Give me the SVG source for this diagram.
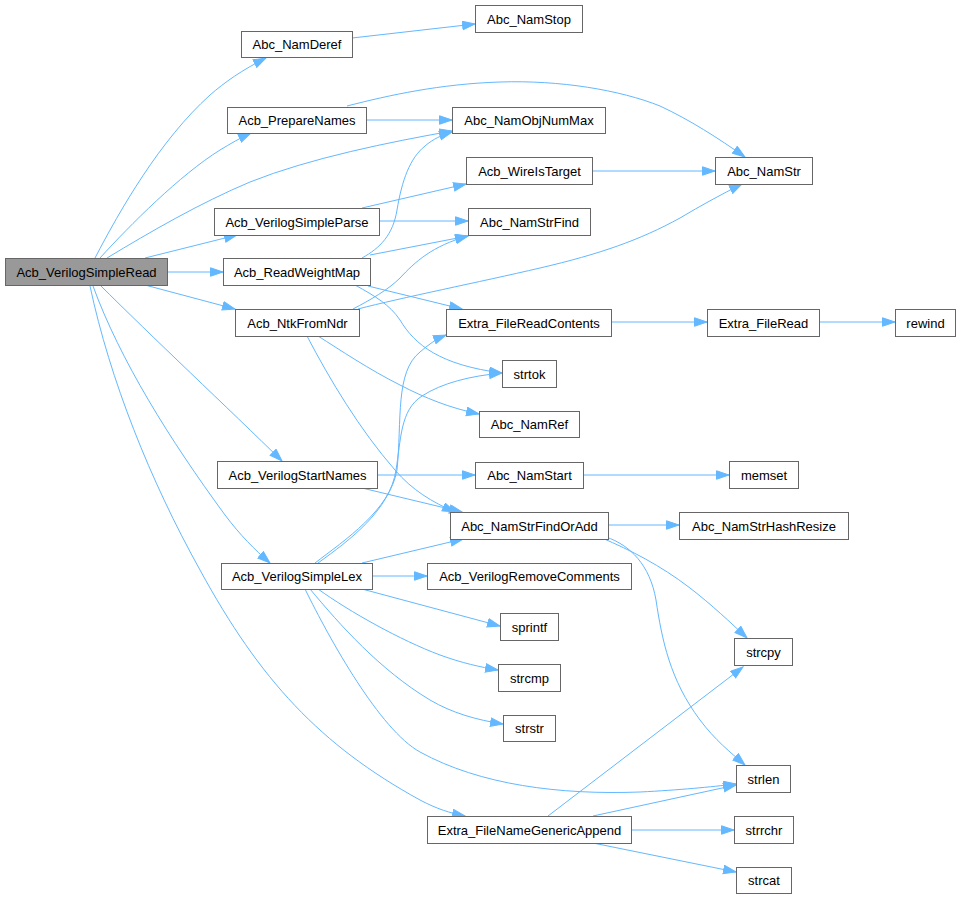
<svg xmlns="http://www.w3.org/2000/svg" width="960" height="899" viewBox="0 0 960 899">
<style>
.n rect{fill:#fff;stroke:#666;stroke-width:1}
.n.root rect{fill:#999}
.n text{font-family:"Liberation Sans",Arial,sans-serif;font-size:13px;fill:#000;text-anchor:middle}
.e path{fill:none;stroke:#63b8ff;stroke-width:1;marker-end:url(#ah)}
</style>
<defs>
<marker id="ah" markerUnits="userSpaceOnUse" markerWidth="15" markerHeight="11" refX="13" refY="4.75" orient="auto">
<path d="M0.5,0.5 L13,4.75 L0.5,9 z" fill="#63b8ff" stroke="#63b8ff" stroke-width="1"/>
</marker>
</defs>
<rect width="960" height="899" fill="#fff"/>
<g id="edges" class="e">
<path d="M95,258 C120,210 160,140 210,95 C225,82 242,70 266,58"/>
<path d="M100,258 C130,225 180,175 220,150 C230,144 240,138 251,133"/>
<path d="M107,258 C150,232 200,203 250,182 C310,158 390,142 452,131"/>
<path d="M145,258 L237,235"/>
<path d="M167,272 L223,272"/>
<path d="M145,285 L235,309"/>
<path d="M100,285 C150,335 230,410 282,461"/>
<path d="M93,286 C120,360 170,440 225,515 C240,535 255,550 270,563"/>
<path d="M90,286 C110,380 150,480 200,570 C260,680 320,745 420,800 C437,809 450,813 465,816"/>
<path d="M352,38 L475,24"/>
<path d="M366,120 L452,120"/>
<path d="M347,106 C390,95 440,84 500,82 C560,80 620,90 660,106 C690,120 718,138 745,157"/>
<path d="M362,208 L466,184"/>
<path d="M379,221 L468,221"/>
<path d="M362,258 C380,248 393,235 397,210 C402,180 410,158 425,146 C433,139 442,135 452,132"/>
<path d="M370,255 L468,236"/>
<path d="M368,286 L462,309"/>
<path d="M355,285 C375,296 390,305 400,320 C415,345 440,365 502,373"/>
<path d="M353,309 C370,300 388,290 400,278 C415,262 432,246 468,236"/>
<path d="M358,309 C400,298 480,282 540,268 C600,254 640,240 680,218 C700,206 722,194 742,184"/>
<path d="M318,336 C340,350 370,370 400,385 C425,398 450,408 479,414"/>
<path d="M307,336 C330,380 360,430 395,470 C412,490 432,502 455,512"/>
<path d="M377,475 L475,475"/>
<path d="M362,488 L462,512"/>
<path d="M315,563 C345,540 390,510 397,470 C402,420 395,372 420,352 C428,345 436,339 446,335"/>
<path d="M318,563 C350,540 390,510 396,470 C401,440 400,410 422,396 C442,383 470,376 502,373"/>
<path d="M362,563 L463,539"/>
<path d="M372,576 L427,576"/>
<path d="M362,589 L500,626"/>
<path d="M318,589 C350,612 400,640 440,655 C462,663 480,667 498,670"/>
<path d="M310,589 C340,625 380,670 430,700 C452,713 477,720 503,724"/>
<path d="M305,589 C330,640 380,730 420,752 C480,785 560,795 640,792 C680,790 710,787 736,784"/>
<path d="M548,816 L743,667"/>
<path d="M593,816 L736,785"/>
<path d="M631,830 L734,830"/>
<path d="M593,843 L736,872"/>
<path d="M608,525 L679,525"/>
<path d="M602,538 C630,550 660,565 690,588 C712,605 730,622 747,638"/>
<path d="M606,537 C630,545 650,565 656,600 C662,640 670,680 700,720 C715,740 730,752 745,765"/>
<path d="M592,171 L715,171"/>
<path d="M611,322 L707,322"/>
<path d="M819,322 L895,322"/>
<path d="M583,475 L729,475"/>
</g>
<g id="n0" class="n root"><rect x="5.5" y="258.5" width="162" height="27"/><text x="86.5" y="276.5">Acb_VerilogSimpleRead</text></g>
<g id="n1" class="n"><rect x="241.5" y="31.5" width="111" height="26"/><text x="297" y="49">Abc_NamDeref</text></g>
<g id="n2" class="n"><rect x="475.5" y="5.5" width="107" height="27"/><text x="529" y="23.5">Abc_NamStop</text></g>
<g id="n3" class="n"><rect x="227.5" y="107.5" width="139" height="26"/><text x="297" y="125">Acb_PrepareNames</text></g>
<g id="n4" class="n"><rect x="452.5" y="107.5" width="153" height="26"/><text x="529" y="125">Abc_NamObjNumMax</text></g>
<g id="n5" class="n"><rect x="715.5" y="157.5" width="97" height="27"/><text x="764" y="175.5">Abc_NamStr</text></g>
<g id="n6" class="n"><rect x="214.5" y="208.5" width="165" height="27"/><text x="297" y="226.5">Acb_VerilogSimpleParse</text></g>
<g id="n7" class="n"><rect x="466.5" y="157.5" width="126" height="27"/><text x="529.5" y="175.5">Acb_WireIsTarget</text></g>
<g id="n8" class="n"><rect x="468.5" y="208.5" width="122" height="27"/><text x="529.5" y="226.5">Abc_NamStrFind</text></g>
<g id="n9" class="n"><rect x="223.5" y="258.5" width="147" height="27"/><text x="297" y="276.5">Acb_ReadWeightMap</text></g>
<g id="n10" class="n"><rect x="446.5" y="309.5" width="165" height="27"/><text x="529" y="327.5">Extra_FileReadContents</text></g>
<g id="n11" class="n"><rect x="502.5" y="360.5" width="54" height="27"/><text x="529.5" y="378.5">strtok</text></g>
<g id="n12" class="n"><rect x="235.5" y="309.5" width="124" height="27"/><text x="297.5" y="327.5">Acb_NtkFromNdr</text></g>
<g id="n13" class="n"><rect x="479.5" y="411.5" width="100" height="26"/><text x="529.5" y="429">Abc_NamRef</text></g>
<g id="n14" class="n"><rect x="450.5" y="512.5" width="158" height="27"/><text x="529.5" y="530.5">Abc_NamStrFindOrAdd</text></g>
<g id="n15" class="n"><rect x="707.5" y="309.5" width="112" height="27"/><text x="763.5" y="327.5">Extra_FileRead</text></g>
<g id="n16" class="n"><rect x="895.5" y="309.5" width="60" height="27"/><text x="925.5" y="327.5">rewind</text></g>
<g id="n17" class="n"><rect x="217.5" y="461.5" width="160" height="27"/><text x="297.5" y="479.5">Acb_VerilogStartNames</text></g>
<g id="n18" class="n"><rect x="475.5" y="462.5" width="108" height="26"/><text x="529.5" y="480">Abc_NamStart</text></g>
<g id="n19" class="n"><rect x="729.5" y="461.5" width="69" height="27"/><text x="764" y="479.5">memset</text></g>
<g id="n20" class="n"><rect x="679.5" y="512.5" width="169" height="27"/><text x="764" y="530.5">Abc_NamStrHashResize</text></g>
<g id="n21" class="n"><rect x="221.5" y="563.5" width="151" height="26"/><text x="297" y="581">Acb_VerilogSimpleLex</text></g>
<g id="n22" class="n"><rect x="427.5" y="563.5" width="204" height="26"/><text x="529.5" y="581">Acb_VerilogRemoveComments</text></g>
<g id="n23" class="n"><rect x="500.5" y="613.5" width="58" height="27"/><text x="529.5" y="631.5">sprintf</text></g>
<g id="n24" class="n"><rect x="498.5" y="664.5" width="62" height="27"/><text x="529.5" y="682.5">strcmp</text></g>
<g id="n25" class="n"><rect x="503.5" y="715.5" width="52" height="26"/><text x="529.5" y="733">strstr</text></g>
<g id="n26" class="n"><rect x="734.5" y="638.5" width="58" height="27"/><text x="763.5" y="656.5">strcpy</text></g>
<g id="n27" class="n"><rect x="736.5" y="765.5" width="54" height="27"/><text x="763.5" y="783.5">strlen</text></g>
<g id="n28" class="n"><rect x="427.5" y="816.5" width="204" height="27"/><text x="529.5" y="834.5">Extra_FileNameGenericAppend</text></g>
<g id="n29" class="n"><rect x="734.5" y="816.5" width="59" height="27"/><text x="764" y="834.5">strrchr</text></g>
<g id="n30" class="n"><rect x="736.5" y="867.5" width="55" height="26"/><text x="764" y="885">strcat</text></g>
</svg>
